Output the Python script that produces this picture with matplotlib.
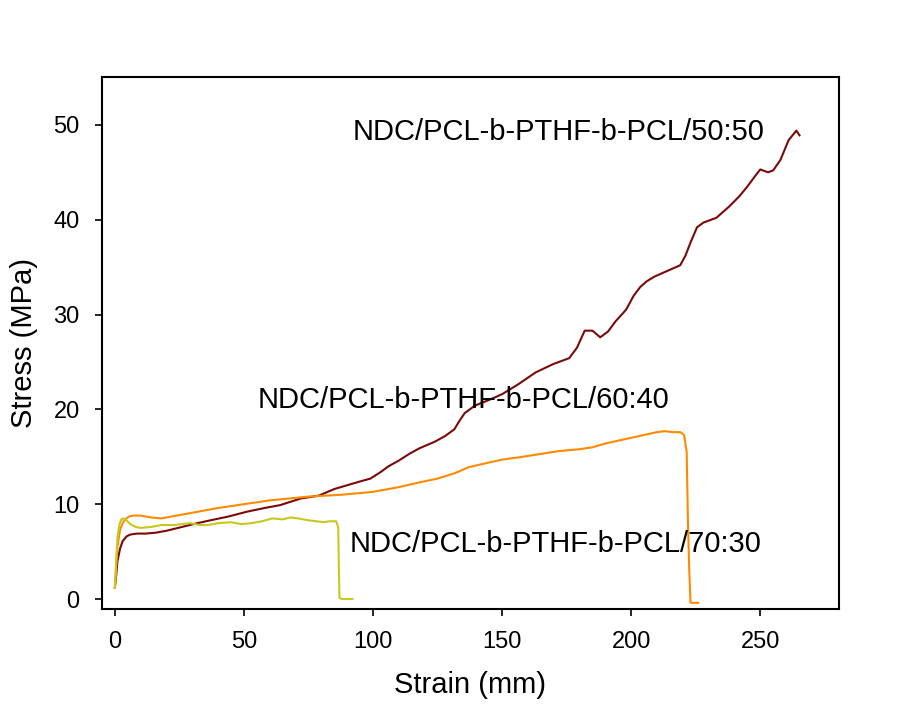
import matplotlib
matplotlib.use("Agg")
import matplotlib.pyplot as plt

plt.rcParams['font.family'] = ['Liberation Sans', 'DejaVu Sans']

# NDC/PCL-b-PTHF-b-PCL/50:50
strain_50 = [0, 0.5, 1, 2, 3, 4.5, 6, 8.5, 12, 16, 20, 26, 32, 37, 44, 51, 58, 64,
             72, 79, 85, 90, 95, 99, 103, 106, 110, 114, 118, 124, 128, 131.5,
             133.5, 135.5, 139.5, 145, 150, 156, 163, 170, 176, 179, 182, 185,
             188, 191, 194, 198, 201, 203.5, 206, 209, 214, 219, 221, 223, 225.5,
             228, 233, 238, 242, 245, 248, 250, 253, 255, 257.8, 261, 264,
             265.2]
stress_50 = [1.2, 2.5, 4.0, 5.3, 6.1, 6.6, 6.8, 6.9, 6.9, 7.0, 7.2, 7.6, 8.0, 8.3,
             8.7, 9.2, 9.6, 9.9, 10.6, 10.9, 11.6, 12.0, 12.4, 12.7, 13.4, 14.0,
             14.6, 15.3, 15.9, 16.6, 17.2, 17.9, 18.8, 19.6, 20.4, 21.0, 21.6,
             22.6, 23.9, 24.8, 25.4, 26.5, 28.3, 28.3, 27.6, 28.2, 29.3, 30.5,
             32.0, 32.9, 33.5, 34.0, 34.6, 35.2, 36.2, 37.6, 39.2, 39.7, 40.2,
             41.4, 42.5, 43.5, 44.6, 45.3, 45.0, 45.2, 46.3, 48.4, 49.4, 48.9]

# NDC/PCL-b-PTHF-b-PCL/60:40
strain_60 = [0, 0.5, 1, 2, 3, 4, 5.5, 7, 10, 14, 18, 22, 30, 40, 50, 60, 75, 88,
             100, 110, 118, 125, 132, 137, 145, 150, 158, 165, 172, 180, 185, 190,
             195, 200, 205, 210, 213, 216, 219, 220.5, 221.5, 222, 222.5, 223,
             224, 226]
stress_60 = [1.2, 3.5, 5.5, 7.3, 8.0, 8.4, 8.7, 8.8, 8.8, 8.6, 8.5, 8.7, 9.1, 9.6,
             10.0, 10.4, 10.8, 11.0, 11.3, 11.8, 12.3, 12.7, 13.3, 13.9, 14.4,
             14.7, 15.0, 15.3, 15.6, 15.8, 16.0, 16.4, 16.7, 17.0, 17.3, 17.6,
             17.7, 17.6, 17.6, 17.3, 15.5, 8.0, 3.0, -0.4, -0.4, -0.4]

# NDC/PCL-b-PTHF-b-PCL/70:30
strain_70 = [0, 0.5, 1, 1.8, 2.5, 3.2, 4.5, 6, 8, 10, 14, 18, 23, 29, 33, 36, 40,
             45, 49, 53, 57, 61, 65, 68, 71, 75, 78, 81, 83, 85.7, 86.5, 86.8, 87,
             88, 92]
stress_70 = [1.2, 4.0, 6.5, 7.9, 8.4, 8.5, 8.3, 7.9, 7.6, 7.5, 7.6, 7.8, 7.8, 8.0,
             7.8, 7.8, 8.0, 8.1, 7.9, 8.0, 8.2, 8.5, 8.4, 8.6, 8.5, 8.3, 8.2, 8.1,
             8.2, 8.2, 7.6, 3.0, 0.1, 0.0, 0.0]

labels = ["NDC/PCL-b-PTHF-b-PCL/50:50",
          "NDC/PCL-b-PTHF-b-PCL/60:40",
          "NDC/PCL-b-PTHF-b-PCL/70:30"]

fig = plt.figure(figsize=(9.08, 7.11), dpi=100)
ax = fig.add_axes([0.1123, 0.1435, 0.8117, 0.7482])

ax.plot(strain_50, stress_50, color="#7a0a0a", lw=1.5)
ax.plot(strain_60, stress_60, color="#ff8a00", lw=1.5)
ax.plot(strain_70, stress_70, color="#c8c81e", lw=1.5)

ax.text(92.2, 49.2, labels[0], fontsize=21, va="center", ha="left")
ax.text(55.4, 21.0, labels[1], fontsize=21, va="center", ha="left")
ax.text(91.1, 5.8, labels[2], fontsize=21, va="center", ha="left")

ax.set_xlim(-5, 280.5)
ax.set_ylim(-1.05, 55.05)
ax.set_xticks([0, 50, 100, 150, 200, 250])
ax.set_yticks([0, 10, 20, 30, 40, 50])

for s in ax.spines.values():
    s.set_linewidth(1.5)

ax.tick_params(direction="out", length=5, width=1.2, labelsize=17, pad=11,
               top=False, right=False)

ax.set_xlabel("Strain (mm)", fontsize=21, labelpad=13)
ax.set_ylabel("Stress (MPa)", fontsize=21, labelpad=11)

fig.savefig("out.png", dpi=100)
